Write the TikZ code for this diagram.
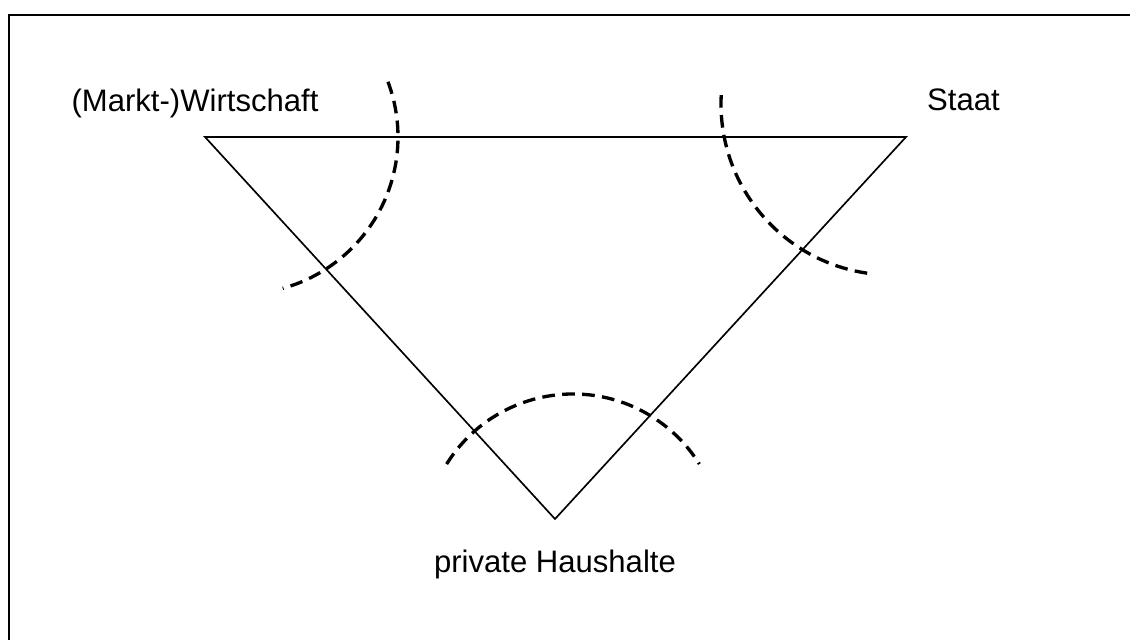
\documentclass[tikz,border=0pt]{standalone}
\usepackage{fontspec}
\setmainfont{Liberation Sans}
\begin{document}
\begin{tikzpicture}[x=0.75pt,y=0.75pt,
  edge/.style={line width=1.25pt},
  sector/.style={line width=2.5pt,dash pattern=on 9.5pt off 5.5pt},
  frameline/.style={line width=1.5pt},
  label/.style={anchor=base,inner sep=0pt,font=\fontsize{23.3}{28}\selectfont}]
\useasboundingbox (0,0) rectangle (1130,639);
% frame (only top and left edges visible)
\begin{scope}
\clip (0,0) rectangle (1130,639);
\coordinate (f1) at (9.3,-5);
\coordinate (f2) at (9.3,624);
\coordinate (f3) at (1140,624);
\draw[frameline] (f1) -- (f2) -- (f3);
\end{scope}
% triangle vertices
\coordinate (W) at (205,502);
\coordinate (S) at (906,502);
\coordinate (H) at (555,120);
\draw[edge] (W) -- (S) -- (H) -- cycle;
% dashed arcs
\coordinate (cW) at (241,502);
\coordinate (cS) at (892,535);
\coordinate (cH) at (573,96);
\draw[sector] ([shift={(20.6:157)}]cW) arc[start angle=20.6,end angle=-74.6,radius=157];
\draw[sector] ([shift={(177:171)}]cS) arc[start angle=177,end angle=263,radius=171];
\draw[sector] ([shift={(148:149)}]cH) arc[start angle=148,end angle=32,radius=149];
% labels
\node[label] (lW) at (195,527) {(Markt-)Wirtschaft};
\node[label] (lS) at (963.5,528) {Staat};
\node[label] (lH) at (555,67) {private Haushalte};
\end{tikzpicture}
\end{document}
